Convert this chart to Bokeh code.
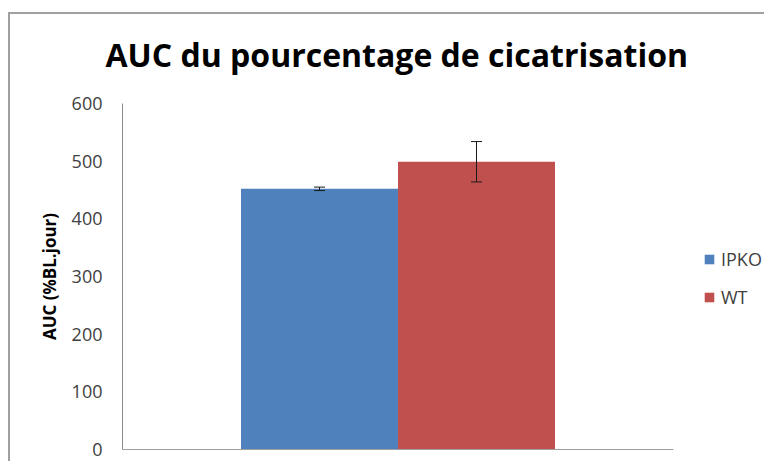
from bokeh.plotting import figure
from bokeh.models import (ColumnDataSource, Range1d, Whisker, TeeHead, Legend, LegendItem,
                          SingleIntervalTicker, FixedTicker)
from bokeh.embed import file_html
from bokeh.resources import INLINE

# ---- data ----
series = ["IPKO", "WT"]
values = [452, 499]
errors = [3, 35]
colors = ["#4F81BD", "#C0504D"]
y_ticks_interval = 100
title_text = "AUC du pourcentage de cicatrisation"
y_label = "AUC (%BL.jour)"

# ---- layout (bars adjacent, one unit wide each, centred in the plot area) ----
X_START, X_END = -1.2548, 2.8344
AXIS_END = 2.2548

W, H = 764, 461
p = figure(width=W, height=H,
           x_range=Range1d(X_START, X_END),
           y_range=Range1d(0, 600),
           output_backend="svg", toolbar_location=None,
           min_border_left=122, min_border_right=0,
           min_border_top=103, min_border_bottom=12)
p.border_fill_color = None
p.background_fill_color = None
# chart-area border (top and left edges visible in the reference), drawn behind the canvas
p.styles = {"background-image": "linear-gradient(#A0A0A0, #A0A0A0), linear-gradient(#A0A0A0, #A0A0A0)",
            "background-repeat": "no-repeat",
            "background-position": "8px 12px, 8px 12px",
            "background-size": "100% 2px, 2px 100%"}

renderers = []
for i, (name, val, err, col) in enumerate(zip(series, values, errors, colors)):
    src = ColumnDataSource(dict(x=[i], val=[val], lo=[val - err], hi=[val + err]))
    r = p.vbar(x="x", top="val", width=1.0, source=src,
               fill_color=col, line_color=None)
    renderers.append(r)
    wh = Whisker(base="x", upper="hi", lower="lo", source=src, dimension="height",
                 line_color="#1a1a1a", line_width=1, level="overlay",
                 upper_head=TeeHead(size=11, line_color="#1a1a1a", line_width=1),
                 lower_head=TeeHead(size=11, line_color="#1a1a1a", line_width=1))
    p.add_layout(wh)

# title
p.title.text = title_text
p.title.align = "left"
p.title.offset = -17
p.title.text_font = "Open Sans"
p.title.text_font_size = "32px"
p.title.text_font_style = "bold"
p.title.text_color = "#000000"
p.title.standoff = 56

# grid / outline
p.grid.visible = False
p.outline_line_color = None

# y axis
p.yaxis.ticker = SingleIntervalTicker(interval=y_ticks_interval)
p.yaxis.axis_line_color = "#898989"
p.yaxis.major_tick_line_color = None
p.yaxis.minor_tick_line_color = None
p.yaxis.major_label_text_font = "Open Sans"
p.yaxis.major_label_text_font_size = "18px"
p.yaxis.major_label_text_color = "#404040"
p.yaxis.major_label_standoff = 14
p.yaxis.axis_label = y_label
p.yaxis.axis_label_text_font = "Open Sans"
p.yaxis.axis_label_text_font_size = "17px"
p.yaxis.axis_label_text_font_style = "bold"
p.yaxis.axis_label_text_color = "#000000"
p.yaxis.axis_label_standoff = 8

# x axis: line only, limited to the plot area
p.xaxis.ticker = FixedTicker(ticks=[])
p.xaxis.bounds = (X_START, AXIS_END)
p.xaxis.axis_line_color = "#A0A0A0"
p.xaxis.major_tick_line_color = None
p.xaxis.minor_tick_line_color = None

legend = Legend(items=[LegendItem(label=s, renderers=[r]) for s, r in zip(series, renderers)],
                location=(581, 140), orientation="vertical",
                glyph_width=12, glyph_height=12, label_standoff=6, spacing=14,
                label_height=12, padding=0, margin=0,
                border_line_color=None, background_fill_alpha=0,
                label_text_font="Open Sans", label_text_font_size="18px",
                label_text_color="#404040")
p.add_layout(legend)

open("out.html", "w").write(file_html(p, INLINE))
